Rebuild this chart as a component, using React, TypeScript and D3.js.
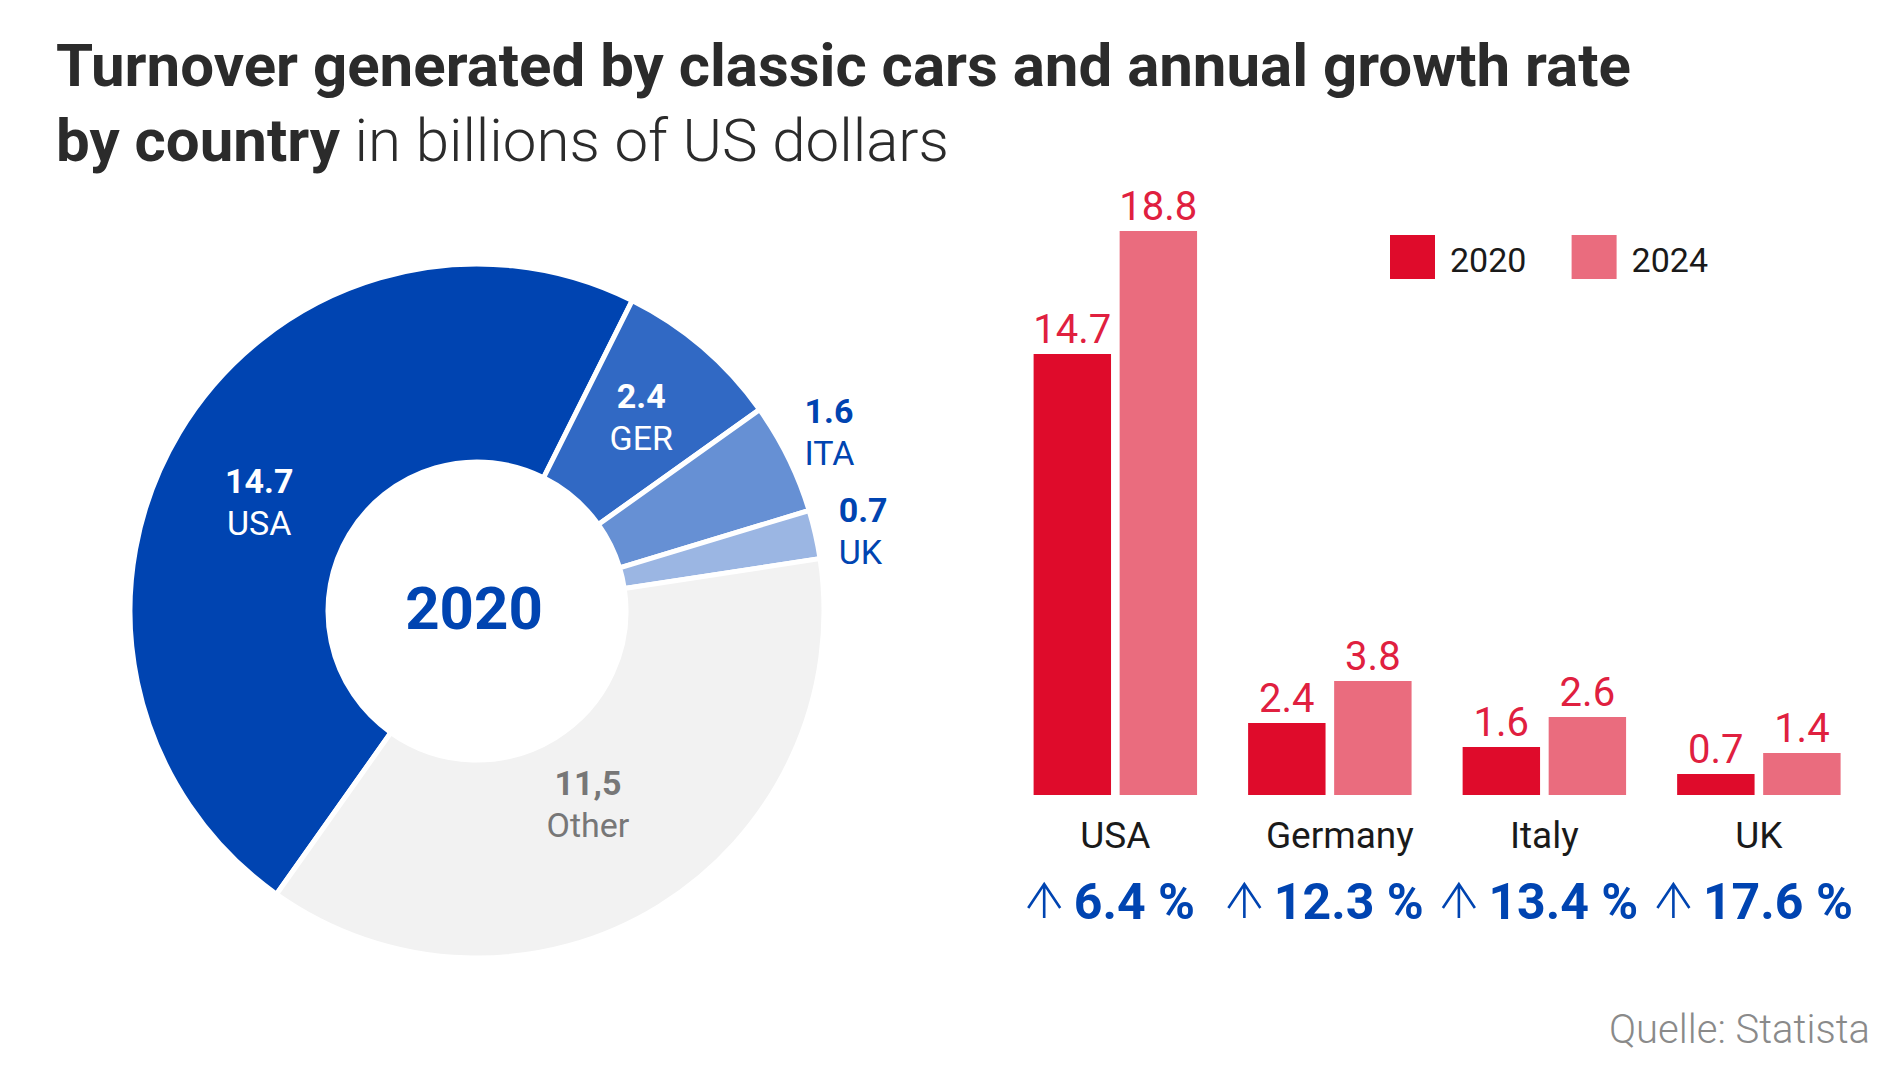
import React, { useLayoutEffect, useRef, useState } from "react";
import * as d3 from "d3";

const donutLabels = ["USA", "GER", "ITA", "UK", "Other"];
const donutValues = [14.7, 2.4, 1.6, 0.7, 11.5];
const donutValueText = ["14.7", "2.4", "1.6", "0.7", "11,5"];
const donutColors = ["#0044B1", "#3169C4", "#6690D4", "#9BB6E3", "#F2F2F2"];
const donutInside = [true, true, false, false, true];

const countries = ["USA", "Germany", "Italy", "UK"];
const years = ["2020", "2024"];
const values2020 = [14.7, 2.4, 1.6, 0.7];
const values2024 = [18.8, 3.8, 2.6, 1.4];
const growth = ["6.4 %", "12.3 %", "13.4 %", "17.6 %"];
const barColors = ["#DF0B2B", "#EA6C7E"];

const W = 1900;
const H = 1069;
const FONT = "Roboto, 'Noto Sans', sans-serif";
const BLUE = "#0044B1";
const LABEL_RED = "#E0203F";

// small label placement nudges (layout, in px) per donut slice
const donutNudge: [number, number][] = [
  [-5, 17],
  [3, -7],
  [-9, -15],
  [-4, 2],
  [-13, -9],
];
// horizontal nudges of category labels (layout)
const countryNudge = [0, 10, 0, 0];

const ARROW_W = 33;
const ARROW_H = 36;
const ARROW_GAP = 13;
const GROWTH_FS = 50;

function estimateWidth(s: string) {
  let w = 0;
  for (const ch of s) {
    if (/[0-9]/.test(ch)) w += 0.5615;
    else if (ch === ".") w += 0.2725;
    else if (ch === " ") w += 0.2476;
    else if (ch === "%") w += 0.7358;
    else w += 0.55;
  }
  return w * GROWTH_FS;
}

export default function App() {
  const numRefs = useRef<(SVGTextElement | null)[]>([]);
  const [widths, setWidths] = useState<number[]>(growth.map(estimateWidth));

  useLayoutEffect(() => {
    const ws = growth.map((g, i) => {
      const el = numRefs.current[i];
      try {
        return el ? el.getComputedTextLength() : estimateWidth(g);
      } catch {
        return estimateWidth(g);
      }
    });
    if (ws.some((w, i) => Math.abs(w - widths[i]) > 0.5)) setWidths(ws);
  }, []);

  // Donut
  const cx = 477;
  const cy = 611;
  const rOuter = 347;
  const rInner = 149;
  const start = (-144.7 * Math.PI) / 180;
  const pie = d3
    .pie<number>()
    .sort(null)
    .value((d) => d)
    .startAngle(start)
    .endAngle(start + 2 * Math.PI);
  const arcs = pie(donutValues);
  const arcGen = d3.arc<d3.PieArcDatum<number>>().innerRadius(rInner).outerRadius(rOuter);
  const labelArc = d3.arc<d3.PieArcDatum<number>>().innerRadius(248).outerRadius(248);
  const otherArc = d3.arc<d3.PieArcDatum<number>>().innerRadius(236).outerRadius(236);
  const outArc = d3.arc<d3.PieArcDatum<number>>().innerRadius(375).outerRadius(375);

  // Bars
  const x0 = d3.scaleBand<string>().domain(countries).range([1033.6, 1840.6]).paddingInner(0.238).paddingOuter(0);
  const x1 = d3.scaleBand<string>().domain(years).range([0, x0.bandwidth()]).paddingInner(0.1);
  const y = d3.scaleLinear().domain([0, 20]).range([795, 195]);
  const series = [values2020, values2024];
  const growthBaseline = 919;

  return (
    <svg
      width={W}
      height={H}
      viewBox={`0 0 ${W} ${H}`}
      style={{ position: "absolute", left: 0, top: 0, background: "#fff" }}
      fontFamily={FONT}
    >
      <rect width={W} height={H} fill="#fff" />
      {/* Title */}
      <text x={56} y={86} fontSize={60} fontWeight={700} fill="#2B2B2B">
        Turnover generated by classic cars and annual growth rate
      </text>
      <text x={56} y={161} fontSize={60} fill="#2B2B2B">
        <tspan fontWeight={700}>by country</tspan>
        <tspan fontWeight={300}> in billions of US dollars</tspan>
      </text>

      {/* Donut */}
      <g transform={`translate(${cx},${cy})`}>
        {arcs.map((a, i) => (
          <path key={i} d={arcGen(a) || ""} fill={donutColors[i]} stroke="#fff" strokeWidth={5} />
        ))}
        {arcs.map((a, i) => {
          const isOther = donutLabels[i] === "Other";
          const inside = donutInside[i];
          const [cxl, cyl] = inside ? (isOther ? otherArc : labelArc).centroid(a) : outArc.centroid(a);
          const lx = cxl + donutNudge[i][0];
          const ly = cyl + donutNudge[i][1];
          const col = isOther ? "#777777" : inside ? "#FFFFFF" : BLUE;
          return (
            <g key={"l" + i}>
              <text
                x={lx}
                y={ly - 8}
                textAnchor={inside ? "middle" : "start"}
                fontSize={34}
                fontWeight={700}
                fill={col}
              >
                {donutValueText[i]}
              </text>
              <text x={lx} y={ly + 34} textAnchor={inside ? "middle" : "start"} fontSize={34} fill={col}>
                {donutLabels[i]}
              </text>
            </g>
          );
        })}
        <text x={-3} y={18} textAnchor="middle" fontSize={60} fontWeight={700} fill={BLUE}>
          2020
        </text>
      </g>

      {/* Bars */}
      {countries.map((c, ci) => {
        const center = x0.bandwidth() / 2 - 4;
        const total = ARROW_W + ARROW_GAP + widths[ci];
        const ax = center - total / 2;
        const top = growthBaseline - ARROW_H;
        return (
          <g key={c} transform={`translate(${x0(c)},0)`}>
            {years.map((yr, si) => {
              const v = series[si][ci];
              const bx = x1(yr) || 0;
              return (
                <g key={yr}>
                  <rect x={bx} y={y(v)} width={x1.bandwidth()} height={y(0) - y(v)} fill={barColors[si]} />
                  <text x={bx + x1.bandwidth() / 2} y={y(v) - 11} textAnchor="middle" fontSize={40} fill={LABEL_RED}>
                    {v.toFixed(1)}
                  </text>
                </g>
              );
            })}
            <text
              x={x0.bandwidth() / 2 + countryNudge[ci]}
              y={848}
              textAnchor="middle"
              fontSize={37}
              fill="#1A1A1A"
            >
              {c}
            </text>
            <path
              d={`M${ax + ARROW_W / 2},${growthBaseline - 1} L${ax + ARROW_W / 2},${top + 1} M${ax + 0.5},${top + 25} L${
                ax + ARROW_W / 2
              },${top + 1} L${ax + ARROW_W - 0.5},${top + 25}`}
              fill="none"
              stroke={BLUE}
              strokeWidth={2.6}
              strokeLinejoin="miter"
            />
            <text
              ref={(el) => {
                numRefs.current[ci] = el;
              }}
              x={ax + ARROW_W + ARROW_GAP}
              y={growthBaseline}
              fontSize={GROWTH_FS}
              fontWeight={700}
              fill={BLUE}
            >
              {growth[ci]}
            </text>
          </g>
        );
      })}

      {/* Legend */}
      {years.map((yr, i) => (
        <g key={yr} transform={`translate(${1390 + i * 181.6},235)`}>
          <rect width={45} height={44} fill={barColors[i]} />
          <text x={60} y={37} fontSize={34} fill="#1A1A1A">
            {yr}
          </text>
        </g>
      ))}

      {/* Source */}
      <text x={1870} y={1043} textAnchor="end" fontSize={40} fontWeight={300} fill="#8A8A8A">
        Quelle: Statista
      </text>
    </svg>
  );
}
